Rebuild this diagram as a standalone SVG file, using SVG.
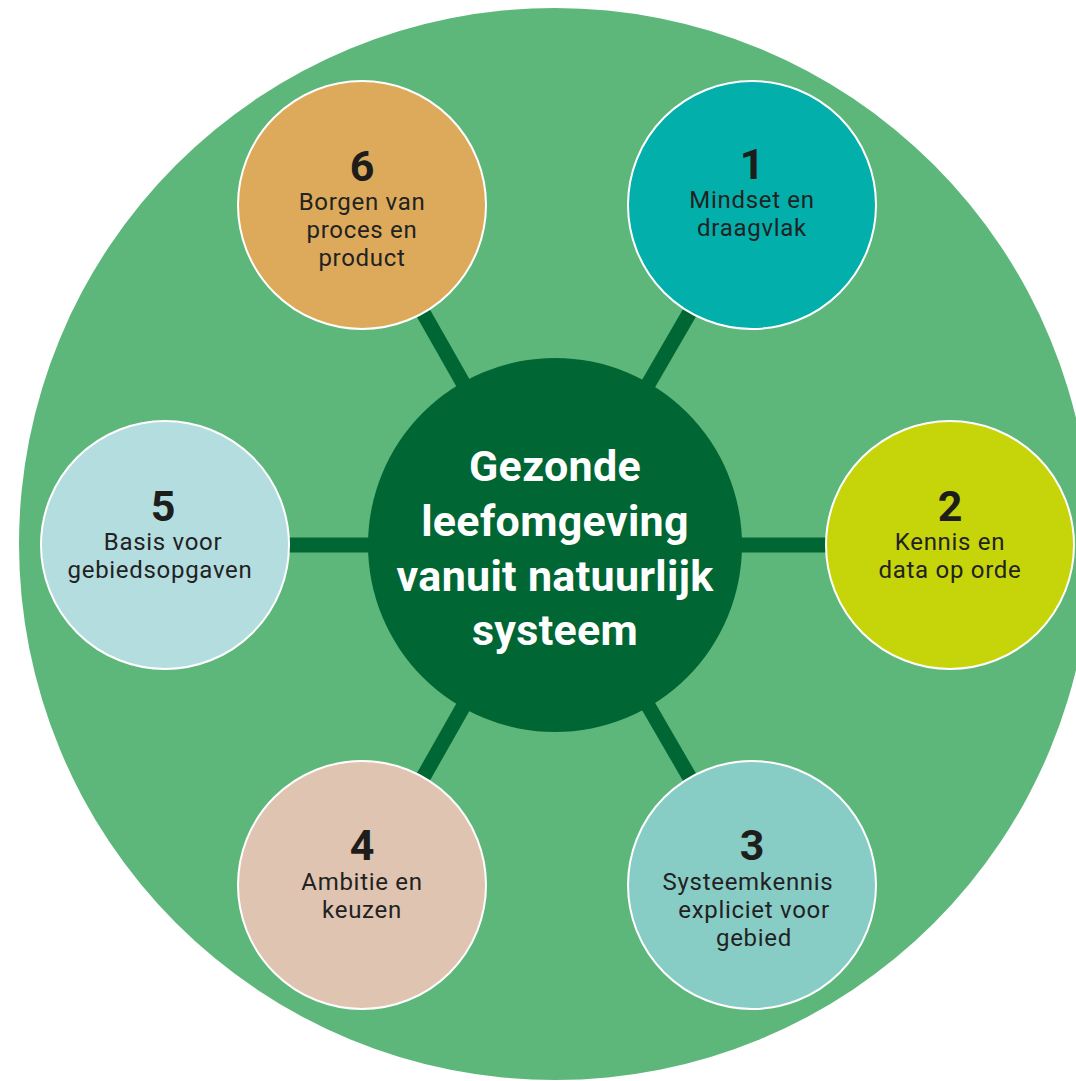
<svg xmlns="http://www.w3.org/2000/svg" width="1076" height="1081" viewBox="0 0 1076 1081">
<style>
.node{stroke:#ffffff;stroke-width:2}
.num{font-family:Roboto,"Liberation Sans",sans-serif;font-weight:700;font-size:43px;fill:#1d1d1b;text-anchor:middle}
.lbl{font-family:Roboto,"Liberation Sans",sans-serif;font-weight:400;font-size:24px;letter-spacing:0.7px;fill:#222222;text-anchor:middle}
.ctr{font-family:Roboto,"Liberation Sans",sans-serif;font-weight:700;font-size:43px;letter-spacing:0.3px;fill:#ffffff;text-anchor:middle}
.spoke{stroke:#006633;stroke-width:15}
</style>
<rect width="1076" height="1081" fill="#ffffff"/>
<circle id="ring" cx="555" cy="544" r="536" fill="#5db77a"/>
<g id="connectors">
<line class="spoke" x1="555" y1="545" x2="752" y2="205"/>
<line class="spoke" x1="555" y1="545" x2="950" y2="545"/>
<line class="spoke" x1="555" y1="545" x2="752" y2="885"/>
<line class="spoke" x1="555" y1="545" x2="362" y2="885"/>
<line class="spoke" x1="555" y1="545" x2="165" y2="545"/>
<line class="spoke" x1="555" y1="545" x2="362" y2="205"/>
</g>
<g id="center">
<circle cx="555" cy="545" r="187" fill="#006633"/>
<text class="ctr" x="555" y="481">Gezonde</text>
<text class="ctr" x="555" y="536">leefomgeving</text>
<text class="ctr" x="555" y="591">vanuit natuurlijk</text>
<text class="ctr" x="555" y="645">systeem</text>
</g>
<g id="node1">
<circle class="node" cx="752" cy="205" r="124" fill="#02afab"/>
<text class="num" x="752" y="179">1</text>
<text class="lbl" x="752" y="208">Mindset en</text>
<text class="lbl" x="752" y="236">draagvlak</text>
</g>
<g id="node2">
<circle class="node" cx="950" cy="545" r="124" fill="#c6d40a"/>
<text class="num" x="950" y="521">2</text>
<text class="lbl" x="950" y="550">Kennis en</text>
<text class="lbl" x="950" y="578">data op orde</text>
</g>
<g id="node3">
<circle class="node" cx="752" cy="885" r="124" fill="#88ccc6"/>
<text class="num" x="752" y="860">3</text>
<text class="lbl" x="748" y="890">Systeemkennis</text>
<text class="lbl" x="754" y="918">expliciet voor</text>
<text class="lbl" x="754" y="946">gebied</text>
</g>
<g id="node4">
<circle class="node" cx="362" cy="885" r="124" fill="#dfc4b1"/>
<text class="num" x="362" y="860">4</text>
<text class="lbl" x="362" y="890">Ambitie en</text>
<text class="lbl" x="362" y="918">keuzen</text>
</g>
<g id="node5">
<circle class="node" cx="165" cy="545" r="124" fill="#b4dde0"/>
<text class="num" x="163" y="521">5</text>
<text class="lbl" x="163" y="550">Basis voor</text>
<text class="lbl" x="160" y="578">gebiedsopgaven</text>
</g>
<g id="node6">
<circle class="node" cx="362" cy="205" r="124" fill="#ddaa5c"/>
<text class="num" x="362" y="181">6</text>
<text class="lbl" x="362" y="210">Borgen van</text>
<text class="lbl" x="362" y="238">proces en</text>
<text class="lbl" x="362" y="266">product</text>
</g>
</svg>
